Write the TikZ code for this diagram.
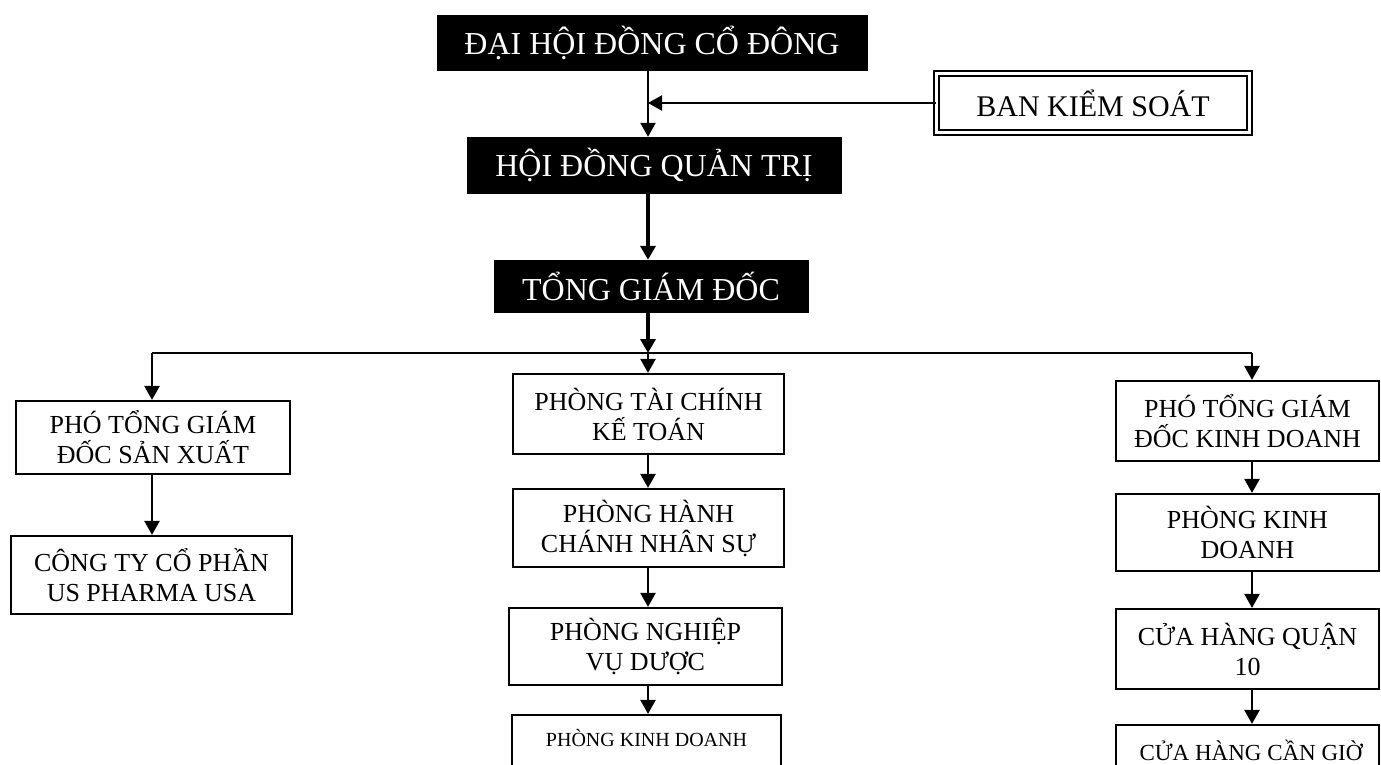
\documentclass[tikz,border=0pt]{standalone}
\usepackage{fontspec}
\setmainfont{Liberation Serif}
\usetikzlibrary{arrows.meta}
\begin{document}
\begin{tikzpicture}[x=1pt,y=-1pt,
  blackbox/.style={fill=black, draw=black, text=white, inner sep=0pt, font=\fontsize{32}{36}\selectfont},
  wbox/.style={draw=black, line width=2.2pt, align=center, inner sep=0pt, font=\fontsize{26}{30}\selectfont},
  dbox/.style={draw=black, double, double distance=3.5pt, line width=1.8pt, inner sep=0pt, font=\fontsize{30}{34}\selectfont},
  conn/.style={line width=2.4pt},
  arr/.style={line width=2.4pt, -{Triangle[width=15pt,length=14pt]}},
  thickarr/.style={line width=3.4pt, -{Triangle[width=15pt,length=14pt]}}]
\useasboundingbox (0,0) rectangle (1381,764);
\clip (0,0) rectangle (1381,764);
% top
\node[blackbox, minimum width=430pt, minimum height=55pt] (dh) at (652,42.5) {ĐẠI HỘI ĐỒNG CỔ ĐÔNG};
\node[dbox, minimum width=313pt, minimum height=59pt] (bks) at (1093,103) {BAN KIỂM SOÁT};
\node[blackbox, minimum width=374pt, minimum height=56pt] (hd) at (654,165) {HỘI ĐỒNG QUẢN TRỊ};
\node[blackbox, minimum width=314pt, minimum height=52pt] (tgd) at (651,286) {TỔNG GIÁM ĐỐC};
% left column
\node[wbox, minimum width=274pt, minimum height=73pt] (phosx) at (153,437.5) {PHÓ TỔNG GIÁM\\ĐỐC SẢN XUẤT};
\node[wbox, minimum width=281pt, minimum height=78pt] (congty) at (151.5,575) {CÔNG TY CỔ PHẦN\\US PHARMA USA};
% middle column
\node[wbox, minimum width=271pt, minimum height=80pt] (tckt) at (648.5,414) {PHÒNG TÀI CHÍNH\\KẾ TOÁN};
\node[wbox, minimum width=271pt, minimum height=78pt] (hcns) at (648.5,528) {PHÒNG HÀNH\\CHÁNH NHÂN SỰ};
\node[wbox, minimum width=273pt, minimum height=77pt] (nvd) at (645.5,646.5) {PHÒNG NGHIỆP\\VỤ DƯỢC};
\node[wbox, minimum width=269pt, minimum height=85pt] (kdm) at (646.5,757.5) {};
\node[font=\fontsize{20}{24}\selectfont, inner sep=0pt] (kdmt) at (646.5,738) {PHÒNG KINH DOANH};
% right column
\node[wbox, minimum width=263pt, minimum height=80pt] (phokd) at (1247.5,421) {PHÓ TỔNG GIÁM\\ĐỐC KINH DOANH};
\node[wbox, minimum width=263pt, minimum height=77pt] (pkdr) at (1247.5,532.5) {PHÒNG KINH\\DOANH};
\node[wbox, minimum width=263pt, minimum height=80pt] (ch10) at (1247.5,649) {CỬA HÀNG QUẬN\\10};
\node[wbox, minimum width=263pt, minimum height=80pt] (cg) at (1247.5,765) {};
\node[font=\fontsize{23}{27}\selectfont, inner sep=0pt] (cgt) at (1251,750) {CỬA HÀNG CẦN GIỜ};
% coordinates
\coordinate (bl) at (152,353);
\coordinate (bm) at (648,353);
\coordinate (br) at (1252,353);
% connectors top
\draw[arr] (dh.south -| bm) -- (bm |- hd.north);
\draw[arr] (bks.west) -- (bks.west -| bm);
\draw[thickarr] (hd.south -| bm) -- (bm |- tgd.north);
\draw[thickarr] (tgd.south -| bm) -- (bm);
\draw[conn] (bl) -- (br);
% left
\draw[arr] (bl) -- (bl |- phosx.north);
\draw[arr] (phosx.south -| bl) -- (bl |- congty.north);
% middle
\draw[arr] (bm) -- (bm |- tckt.north);
\draw[arr] (tckt.south -| bm) -- (bm |- hcns.north);
\draw[arr] (hcns.south -| bm) -- (bm |- nvd.north);
\draw[arr] (nvd.south -| bm) -- (bm |- kdm.north);
% right
\draw[arr] (br) -- (br |- phokd.north);
\draw[arr] (phokd.south -| br) -- (br |- pkdr.north);
\draw[arr] (pkdr.south -| br) -- (br |- ch10.north);
\draw[arr] (ch10.south -| br) -- (br |- cg.north);
\end{tikzpicture}
\end{document}
